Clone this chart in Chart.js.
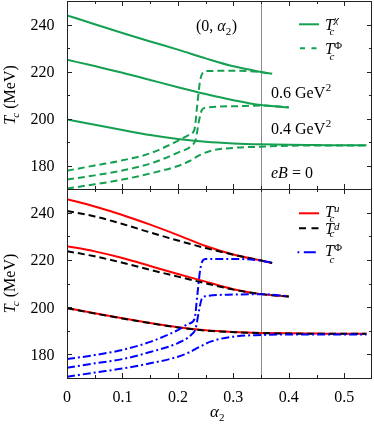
<!DOCTYPE html>
<html lang="en">
<head>
    <meta charset="UTF-8">
    <title>Tc vs alpha2</title>
    <script src="https://cdn.jsdelivr.net/npm/chart.js"></script>
    <style>
        body {
            margin: 0;
            background: #fff;
            width: 374px;
            height: 424px;
            position: relative;
            overflow: hidden;
        }
        canvas {
            position: absolute;
            left: 0;
        }
        #topPanel { top: 0; }
        #bottomPanel { top: 188px; }
    </style>
</head>
<body>
    <canvas id="topPanel" width="374" height="190"></canvas>
    <canvas id="bottomPanel" width="374" height="236"></canvas>

    <script>
        // axis ticks
        const xTickLabels = [0, 0.1, 0.2, 0.3, 0.4, 0.5];
        const yTickLabels = [180, 200, 220, 240];
        const alphaCut = 0.35; // grey vertical line

        // top panel: T_c^chi (solid) and T_c^Phi (dashed) for eB = 0.6, 0.4, 0 GeV^2
        const alphaLong = [0, 0.05, 0.1, 0.15, 0.2, 0.25, 0.3, 0.35, 0.4, 0.45, 0.5, 0.54];
        const alpha04 = [0, 0.05, 0.1, 0.15, 0.2, 0.25, 0.3, 0.35, 0.4];
        const alpha06 = [0, 0.05, 0.1, 0.15, 0.2, 0.25, 0.3, 0.35, 0.37];

        const tChi06 = [243.9, 240.1, 236.4, 232.8, 229.3, 225.6, 222.2, 219.8, 219.0];
        const tChi04 = [225.0, 222.3, 219.5, 216.4, 213.3, 210.4, 207.8, 205.7, 204.7];
        const tChi0 = [199.6, 197.3, 195.1, 193.0, 191.3, 190.1, 189.4, 189.0, 188.8, 188.7, 188.6, 188.6];

        const alphaPhi06 = [0, 0.05, 0.1, 0.15, 0.2, 0.22, 0.23, 0.235, 0.24, 0.245, 0.25, 0.3, 0.35, 0.37];
        const tPhi06 = [177.8, 180.0, 182.2, 185.2, 190.5, 193.0, 195.5, 206.0, 216.0, 219.6, 220.2, 220.3, 219.7, 219.0];
        const alphaPhi04 = [0, 0.05, 0.1, 0.15, 0.2, 0.225, 0.232, 0.238, 0.243, 0.25, 0.3, 0.35, 0.4];
        const tPhi04 = [174.0, 175.8, 177.9, 180.8, 185.5, 188.5, 191.0, 199.0, 203.5, 204.6, 205.2, 205.5, 204.8];
        const alphaPhi0 = [0, 0.05, 0.1, 0.15, 0.2, 0.22, 0.24, 0.26, 0.3, 0.35, 0.4, 0.45, 0.5, 0.54];
        const tPhi0 = [170.2, 172.0, 174.0, 176.6, 179.8, 181.8, 184.5, 186.3, 187.5, 188.0, 188.4, 188.5, 188.5, 188.5];

        // bottom panel: T_c^u (red), T_c^d (black dashed), T_c^Phi (blue dash-dot)
        const tU06 = [245.7, 242.6, 239.0, 234.9, 230.5, 225.9, 222.3, 219.7, 218.7];
        const tU04 = [225.8, 223.6, 220.8, 217.4, 214.0, 210.8, 207.6, 205.5, 204.5];
        const tU0 = [199.6, 197.4, 195.3, 193.3, 191.5, 190.2, 189.5, 189.1, 188.9, 188.8, 188.7, 188.7];

        const tD06 = [240.7, 238.4, 235.2, 231.6, 228.2, 225.0, 222.2, 219.7, 218.7];
        const tD04 = [223.7, 221.5, 218.8, 215.8, 212.9, 210.1, 207.4, 205.5, 204.5];
        const tD0 = [199.5, 197.3, 195.2, 193.2, 191.4, 190.1, 189.4, 189.0, 188.8, 188.7, 188.7, 188.7];

        const tPhiB06 = [178.0, 179.7, 181.9, 185.3, 190.3, 193.0, 195.0, 205.0, 215.5, 219.8, 220.4, 220.4, 219.7, 218.8];
        const tPhiB04 = [174.3, 176.2, 178.0, 181.0, 184.8, 188.5, 191.0, 198.5, 203.5, 204.6, 205.3, 205.5, 204.6];
        const tPhiB0 = [170.5, 172.3, 174.0, 176.2, 179.0, 180.8, 183.3, 185.5, 187.5, 188.2, 188.4, 188.4, 188.4, 188.4];

        const GREEN = '#14a050';
        const RED = '#ff0000';
        const BLUE = '#0000ff';
        const GREY = '#8a8a8a';
        const FONT = '"Liberation Serif", "DejaVu Serif", serif';
        const DASH = [7, 4];
        const DASHDOT = [8, 3, 2, 3];

        function pts(xs, ys) {
            return xs.map((x, i) => ({ x: x, y: ys[i] }));
        }

        function curve(xs, ys, color, dash) {
            return {
                data: pts(xs, ys),
                borderColor: color,
                borderDash: dash || [],
                borderWidth: 2,
                pointRadius: 0,
                fill: false
            };
        }

        // small helper for the math-ish labels
        function txt(ctx, s, x, y, size, italic) {
            ctx.font = (italic ? 'italic ' : '') + size + 'px ' + FONT;
            ctx.fillText(s, x, y);
            return x + ctx.measureText(s).width;
        }

        function tc(ctx, x, y, sup, supDy, subDy) {
            txt(ctx, 'T', x, y, 16, true);
            txt(ctx, 'c', x + 4.5, y + subDy, 11, true);
            txt(ctx, sup, x + 9, y + supDy, 11, sup !== 'Φ');
        }

        function legendLine(ctx, x1, x2, y, color, dash) {
            ctx.save();
            ctx.strokeStyle = color;
            ctx.lineWidth = 2;
            ctx.setLineDash(dash);
            ctx.beginPath();
            ctx.moveTo(x1, y);
            ctx.lineTo(x2, y);
            ctx.stroke();
            ctx.restore();
        }

        function yTitle(ctx, cy) {
            ctx.save();
            ctx.translate(15, cy);
            ctx.rotate(-Math.PI / 2);
            ctx.font = '16px ' + FONT;
            const w = 12 + ctx.measureText(' (MeV)').width;
            const x = -w / 2;
            txt(ctx, 'T', x, 0, 16, true);
            txt(ctx, 'c', x + 7, 4, 11, true);
            txt(ctx, ' (MeV)', x + 12, 0, 16, false);
            ctx.restore();
        }

        // frame, inward ticks, tick labels, grey line and annotations
        function framePlugin(showX, drawTexts) {
            return {
                id: 'frame',
                beforeDatasetsDraw(chart) {
                    const a = chart.chartArea;
                    const xc = Math.round(chart.scales.x.getPixelForValue(alphaCut)) + 0.5;
                    const ctx = chart.ctx;
                    ctx.save();
                    ctx.strokeStyle = GREY;
                    ctx.lineWidth = 1;
                    ctx.beginPath();
                    ctx.moveTo(xc, a.top);
                    ctx.lineTo(xc, a.bottom);
                    ctx.stroke();
                    ctx.restore();
                },
                afterDatasetsDraw(chart) {
                    const a = chart.chartArea;
                    const ctx = chart.ctx;
                    const sx = chart.scales.x, sy = chart.scales.y;
                    ctx.save();
                    ctx.strokeStyle = '#222';
                    ctx.lineWidth = 1;
                    ctx.beginPath();
                    for (let i = 1; i < 11; i++) {
                        const px = Math.round(sx.getPixelForValue(i * 0.05)) + 0.5;
                        const len = i % 2 === 0 ? 5 : 3;
                        ctx.moveTo(px, a.bottom); ctx.lineTo(px, a.bottom - len);
                        ctx.moveTo(px, a.top); ctx.lineTo(px, a.top + len);
                    }
                    for (let v = 180; v < 250; v += 10) {
                        const py = Math.round(sy.getPixelForValue(v)) + 0.5;
                        const len = v % 20 === 0 ? 5 : 3;
                        ctx.moveTo(a.left, py); ctx.lineTo(a.left + len, py);
                        ctx.moveTo(a.right, py); ctx.lineTo(a.right - len, py);
                    }
                    ctx.stroke();
                    ctx.strokeRect(a.left + 0.5, a.top + 0.5, a.right - a.left - 1, a.bottom - a.top);

                    // tick labels
                    ctx.fillStyle = '#000';
                    ctx.font = '16px ' + FONT;
                    ctx.textBaseline = 'alphabetic';
                    ctx.textAlign = 'right';
                    yTickLabels.forEach(v => {
                        ctx.fillText(String(v), a.left - 12.5, sy.getPixelForValue(v) + 5.5);
                    });
                    if (showX) {
                        ctx.textAlign = 'center';
                        xTickLabels.forEach(v => {
                            ctx.fillText(String(v), sx.getPixelForValue(v), a.bottom + 23.5);
                        });
                    }
                    ctx.restore();
                },
                afterDraw(chart) {
                    const ctx = chart.ctx;
                    ctx.save();
                    ctx.fillStyle = '#000';
                    ctx.textBaseline = 'alphabetic';
                    ctx.textAlign = 'left';
                    drawTexts(ctx);
                    ctx.restore();
                }
            };
        }

        function panelOptions(showX) {
            return {
                responsive: false,
                animation: false,
                devicePixelRatio: 1,
                layout: { padding: { left: 0, right: 2, top: 1, bottom: showX ? 46 : 1 } },
                plugins: { legend: { display: false }, tooltip: { enabled: false } },
                elements: { line: { cubicInterpolationMode: 'monotone' } },
                scales: {
                    x: {
                        type: 'linear',
                        min: 0,
                        max: 0.55,
                        display: false
                    },
                    y: {
                        type: 'linear',
                        min: 170,
                        max: 250,
                        grid: { display: false },
                        border: { display: false },
                        afterBuildTicks: s => { s.ticks = yTickLabels.map(v => ({ value: v })); },
                        afterFit: s => { s.width = 67; s.paddingTop = 0; s.paddingBottom = 0; },
                        ticks: { display: false }
                    }
                }
            };
        }

        // top panel
        new Chart(document.getElementById('topPanel'), {
            type: 'line',
            data: {
                datasets: [
                    curve(alpha06, tChi06, GREEN),
                    curve(alpha04, tChi04, GREEN),
                    curve(alphaLong, tChi0, GREEN),
                    curve(alphaPhi06, tPhi06, GREEN, DASH),
                    curve(alphaPhi04, tPhi04, GREEN, DASH),
                    curve(alphaPhi0, tPhi0, GREEN, DASH)
                ]
            },
            options: panelOptions(false),
            plugins: [framePlugin(false, ctx => {
                let x = txt(ctx, '(0, ', 196, 31, 16, false);
                x = txt(ctx, 'α', x, 31, 16, true);
                x = txt(ctx, '2', x, 35, 11, false);
                txt(ctx, ')', x + 0.5, 31, 16, false);

                legendLine(ctx, 299, 319, 24.3, GREEN, []);
                tc(ctx, 325, 29.5, 'χ', -7, 5.5);
                legendLine(ctx, 300, 319, 48.3, GREEN, [5, 6.5]);
                tc(ctx, 325, 53.5, 'Φ', -5, 6.5);

                x = txt(ctx, '0.6 GeV', 271, 98, 16, false);
                txt(ctx, '2', x + 0.5, 91, 11, false);
                x = txt(ctx, '0.4 GeV', 271, 134, 16, false);
                txt(ctx, '2', x + 0.5, 127, 11, false);
                x = txt(ctx, 'eB', 271, 178, 16, true);
                txt(ctx, ' = 0', x, 178, 16, false);

                yTitle(ctx, 95);
            })]
        });

        // bottom panel
        new Chart(document.getElementById('bottomPanel'), {
            type: 'line',
            data: {
                datasets: [
                    curve(alphaPhi06, tPhiB06, BLUE, DASHDOT),
                    curve(alphaPhi04, tPhiB04, BLUE, DASHDOT),
                    curve(alphaPhi0, tPhiB0, BLUE, DASHDOT),
                    curve(alpha06, tD06, '#000', DASH),
                    curve(alpha04, tD04, '#000', DASH),
                    curve(alphaLong, tD0, '#000', DASH),
                    curve(alpha06, tU06, RED),
                    curve(alpha04, tU04, RED),
                    curve(alphaLong, tU0, RED)
                ]
            },
            options: panelOptions(true),
            plugins: [framePlugin(true, ctx => {
                legendLine(ctx, 299, 319, 25.3, RED, []);
                tc(ctx, 325, 28.7, 'u', -5, 5);
                legendLine(ctx, 299, 320, 40.3, '#000', [7, 5.5]);
                tc(ctx, 325, 46, 'd', -4, 2.5);
                legendLine(ctx, 297.5, 317, 64.3, BLUE, [1.8, 4.5, 12, 4]);
                tc(ctx, 325, 67.7, 'Φ', -4.5, 7);

                const x = txt(ctx, 'α', 210, 229, 17, true);
                txt(ctx, '2', x, 233, 11, false);

                yTitle(ctx, 95.5);
            })]
        });
    </script>
</body>
</html>
